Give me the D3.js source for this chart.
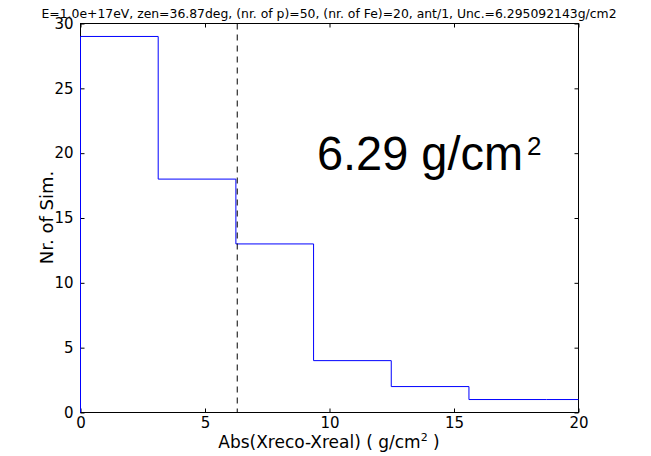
<!DOCTYPE html>
<html>
<head>
<meta charset="utf-8">
<script src="https://cdn.jsdelivr.net/npm/d3@7"></script>
<style>
  body { margin: 0; background: #fff; }
  text { fill: #000; }
</style>
</head>
<body>
<svg id="chart"></svg>
<script>
// Histogram data
const binEdges = [0, 3.12, 6.24, 9.36, 12.48, 15.6, 18.72, 21.84];
const counts = [29, 18, 13, 4, 2, 1, 1];
const uncertainty = 6.295092143;
const uncLabel = '6.29';
const xTicks = [0, 5, 10, 15, 20];
const yTicks = [0, 5, 10, 15, 20, 25, 30];

const config = {
    width: 651,
    height: 456,
    margin: { top: 23, right: 73, bottom: 44, left: 80 }
};
const dejavu = '"DejaVu Sans", sans-serif';

const svg = d3.select('#chart')
    .attr('width', config.width)
    .attr('height', config.height)
    .style('font-family', dejavu);

const innerW = 498;
const innerH = 389;

const x = d3.scaleLinear().domain([0, 20]).range([0, innerW]);
const y = d3.scaleLinear().domain([0, 30]).range([innerH, 0]);

const g = svg.append('g')
    .attr('transform', `translate(${config.margin.left + 0.5},${config.margin.top + 0.5})`);

g.append('clipPath').attr('id', 'clip')
    .append('rect').attr('x', -2).attr('y', -2).attr('width', innerW + 2).attr('height', innerH + 4);

// Axes with inward ticks on all sides
const fmt = d3.format('d');
g.append('g').attr('transform', `translate(0,${innerH})`)
    .call(d3.axisBottom(x).tickValues(xTicks).tickSize(-4).tickPadding(5).tickFormat(fmt))
    .call(a => a.selectAll('text').attr('font-size', 15));
g.append('g')
    .call(d3.axisTop(x).tickValues(xTicks).tickSize(-4).tickFormat(''));
g.append('g')
    .call(d3.axisLeft(y).tickValues(yTicks).tickSize(-4).tickPadding(7).tickFormat(fmt))
    .call(a => a.selectAll('text').attr('font-size', 15));
g.append('g').attr('transform', `translate(${innerW},0)`)
    .call(d3.axisRight(y).tickValues(yTicks).tickSize(-4).tickFormat(''));
svg.selectAll('.domain').remove();
svg.selectAll('.tick line').attr('stroke', '#000');
svg.selectAll('.tick text').attr('font-family', dejavu);

g.append('rect')
    .attr('width', innerW).attr('height', innerH)
    .attr('fill', 'none').attr('stroke', '#000').attr('stroke-width', 1);

// Step outline of histogram
const pts = [[binEdges[0], 0]];
counts.forEach((c, i) => {
    pts.push([binEdges[i], c]);
    pts.push([binEdges[i + 1], c]);
});
pts.push([binEdges[binEdges.length - 1], 0]);

g.append('path')
    .attr('clip-path', 'url(#clip)')
    .attr('d', d3.line().x(d => x(d[0])).y(d => y(d[1]))(pts))
    .attr('fill', 'none')
    .attr('stroke', '#0000ff')
    .attr('stroke-width', 1);

// Uncertainty line
g.append('line')
    .attr('x1', x(uncertainty)).attr('x2', x(uncertainty))
    .attr('y1', 0).attr('y2', innerH)
    .attr('stroke', '#000')
    .attr('stroke-dasharray', '6,5');

// Title
svg.append('text')
    .attr('x', 329).attr('y', 18)
    .attr('text-anchor', 'middle')
    .attr('font-size', 12.4)
    .text(`E=1.0e+17eV, zen=36.87deg, (nr. of p)=50, (nr. of Fe)=20, ant/1, Unc.=${uncertainty}g/cm2`);

// Axis labels
const xl = svg.append('text')
    .attr('x', 329).attr('y', 448)
    .attr('text-anchor', 'middle')
    .attr('font-size', 17);
xl.append('tspan').text('Abs(Xreco-Xreal) ( g/cm');
xl.append('tspan').attr('font-size', 11).attr('dy', -7).text('2');
xl.append('tspan').attr('dy', 7).text(' )');

svg.append('text')
    .attr('transform', `translate(53,${config.margin.top + innerH / 2}) rotate(-90)`)
    .attr('text-anchor', 'middle')
    .attr('font-size', 18)
    .text('Nr. of Sim.');

// Big annotation
const liberation = '"Liberation Sans", Arial, sans-serif';
svg.append('text')
    .attr('x', 317).attr('y', 170)
    .style('font-family', liberation)
    .attr('font-size', 48)
    .attr('textLength', 206)
    .attr('lengthAdjust', 'spacingAndGlyphs')
    .text(`${uncLabel} g/cm`);
svg.append('text')
    .attr('x', 527).attr('y', 155)
    .style('font-family', liberation)
    .attr('font-size', 26)
    .text('2');
</script>
</body>
</html>
